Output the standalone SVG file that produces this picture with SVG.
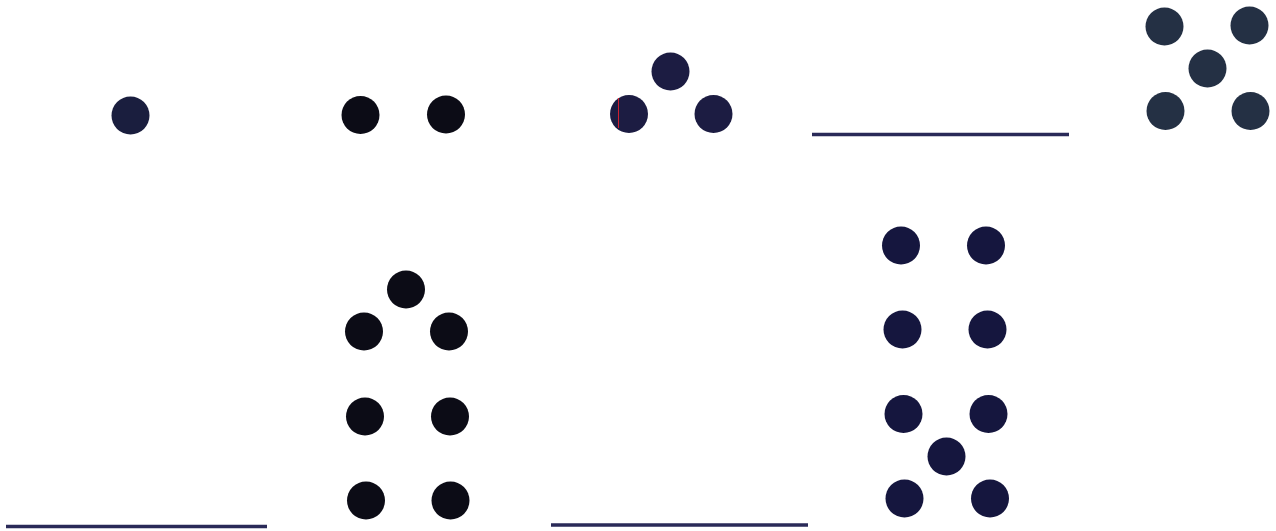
<svg xmlns="http://www.w3.org/2000/svg" width="1276" height="531" viewBox="0 0 1276 531">
<style>
.d{stroke:none}
.navy{fill:#1a1e3e}
.blk{fill:#0c0c16}
.tri{fill:#1c1c42}
.slate{fill:#243044}
.nine{fill:#15163e}
.bar{stroke:#2a2a58;stroke-width:3.5;stroke-linecap:butt;fill:none}
</style>
<rect width="1276" height="531" fill="#ffffff"/>
<g id="one" class="navy">
<circle class="d" cx="130.5" cy="115.5" r="19"/>
</g>
<g id="two" class="blk">
<circle class="d" cx="360.5" cy="115" r="19"/>
<circle class="d" cx="446" cy="114.5" r="19"/>
</g>
<g id="three" class="tri">
<circle class="d" cx="670.5" cy="71.5" r="19"/>
<circle class="d" cx="629" cy="114" r="19"/>
<circle class="d" cx="713.5" cy="114" r="19"/>
<line x1="618.5" y1="98" x2="618.5" y2="128" stroke="#d02030" stroke-width="1"/>
</g>
<g id="bar1"><line class="bar" x1="812" y1="134.5" x2="1069" y2="134.5"/></g>
<g id="five" class="slate">
<circle class="d" cx="1164.5" cy="26.5" r="19"/>
<circle class="d" cx="1249.5" cy="25.5" r="19"/>
<circle class="d" cx="1207.5" cy="68.5" r="19"/>
<circle class="d" cx="1165.5" cy="111" r="19"/>
<circle class="d" cx="1250.5" cy="111" r="19"/>
</g>
<g id="bar2"><line class="bar" x1="6" y1="526.5" x2="267" y2="526.5"/></g>
<g id="seven" class="blk">
<circle class="d" cx="406" cy="289.5" r="19"/>
<circle class="d" cx="364" cy="331.5" r="19"/>
<circle class="d" cx="449" cy="331.5" r="19"/>
<circle class="d" cx="365" cy="416.5" r="19"/>
<circle class="d" cx="450" cy="416.5" r="19"/>
<circle class="d" cx="366" cy="500.5" r="19"/>
<circle class="d" cx="450.5" cy="500.5" r="19"/>
</g>
<g id="bar3"><line class="bar" x1="551" y1="525" x2="808" y2="525"/></g>
<g id="nine" class="nine">
<circle class="d" cx="901" cy="245.5" r="19"/>
<circle class="d" cx="986" cy="245.5" r="19"/>
<circle class="d" cx="902.5" cy="329.5" r="19"/>
<circle class="d" cx="987.5" cy="329.5" r="19"/>
<circle class="d" cx="903.5" cy="414" r="19"/>
<circle class="d" cx="988.5" cy="414" r="19"/>
<circle class="d" cx="946.5" cy="456.5" r="19"/>
<circle class="d" cx="904.5" cy="498.5" r="19"/>
<circle class="d" cx="990" cy="498.5" r="19"/>
</g>
</svg>
